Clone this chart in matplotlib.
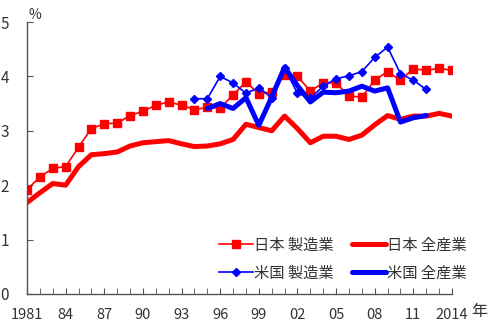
import matplotlib
matplotlib.use("Agg")
import matplotlib.pyplot as plt
import numpy as np

plt.rcParams['font.family'] = ['Noto Sans CJK JP', 'DejaVu Sans']

years = list(range(1981, 2015))
jp_manu = [1.92, 2.15, 2.31, 2.34, 2.70, 3.04, 3.13, 3.14, 3.28, 3.36, 3.47, 3.53,
           3.47, 3.39, 3.43, 3.42, 3.66, 3.90, 3.68, 3.72, 4.02, 4.00, 3.73, 3.88,
           3.88, 3.64, 3.62, 3.93, 4.09, 3.93, 4.14, 4.11, 4.15, 4.11]
jp_total = [1.68, 1.86, 2.03, 2.00, 2.34, 2.56, 2.58, 2.61, 2.72, 2.78, 2.80, 2.82,
            2.76, 2.71, 2.72, 2.76, 2.84, 3.12, 3.06, 3.00, 3.27, 3.04, 2.78, 2.90,
            2.90, 2.84, 2.92, 3.11, 3.28, 3.21, 3.27, 3.27, 3.32, 3.27]
us_years = list(range(1994, 2013))
us_manu = [3.59, 3.59, 4.00, 3.88, 3.69, 3.79, 3.61, 4.15, 3.69, 3.60, 3.82, 3.96,
           4.01, 4.09, 4.35, 4.54, 4.05, 3.93, 3.76]
us_total_years = list(range(1995, 2013))
us_total = [3.41, 3.50, 3.41, 3.61, 3.10, 3.62, 4.17, 3.83, 3.53, 3.71, 3.70, 3.73,
            3.82, 3.73, 3.79, 3.16, 3.24, 3.28]

xtick_years = [1981, 1984, 1987, 1990, 1993, 1996, 1999, 2002, 2005, 2008, 2011, 2014]
xtick_labels = ['1981', '84', '87', '90', '93', '96', '99', '02', '05', '08', '11', '2014']
yticks = [0, 1, 2, 3, 4, 5]

labels = ['日本 製造業', '日本 全産業', '米国 製造業', '米国 全産業']
red = '#ff0000'
blue = '#0000ff'
txt = '#333333'

fig = plt.figure(figsize=(5.0, 3.34), dpi=100)
ax = fig.add_axes([0.054, 0.12, 0.85, 0.814])

l1, = ax.plot(years, jp_manu, color=red, lw=1.2, marker='s', ms=6, label=labels[0], zorder=3)
l2, = ax.plot(years, jp_total, color=red, lw=3.6, solid_capstyle='round', label=labels[1], zorder=2)
l3, = ax.plot(us_years, us_manu, color=blue, lw=1.2, marker='D', ms=4.5, label=labels[2], zorder=4)
l4, = ax.plot(us_total_years, us_total, color=blue, lw=3.6, solid_capstyle='round', label=labels[3], zorder=5)

ax.set_xlim(1981, 2014)
ax.set_ylim(0, 5)
ax.set_xticks(xtick_years)
ax.set_xticklabels(xtick_labels)
ax.set_xticks(years, minor=True)
ax.set_yticks(yticks)

for s in ['top', 'right']:
    ax.spines[s].set_visible(False)
for s in ['left', 'bottom']:
    ax.spines[s].set_color('#555555')
    ax.spines[s].set_linewidth(1.0)

ax.tick_params(axis='x', which='both', direction='in', length=4, color='#555555',
               labelsize=10.5, labelcolor=txt, pad=10)
ax.tick_params(axis='y', which='both', direction='in', length=4, color='#555555',
               labelsize=11, labelcolor=txt, pad=13)

ax.text(0.003, 1.0, '%', transform=ax.transAxes, ha='left', va='bottom', fontsize=10, color=txt)
ax.text(1.063, -0.066, '年', transform=ax.transAxes, ha='center', va='center', fontsize=11.5, color=txt)

leg = ax.legend(handles=[l1, l3, l2, l4], ncol=2, frameon=False,
                loc='lower left', bbox_to_anchor=(0.42, -0.005),
                fontsize=11, handlelength=2.2, handletextpad=0.1,
                columnspacing=1.2, labelspacing=0.72)
for t in leg.get_texts():
    t.set_color(txt)

fig.savefig('out.png', dpi=100)
